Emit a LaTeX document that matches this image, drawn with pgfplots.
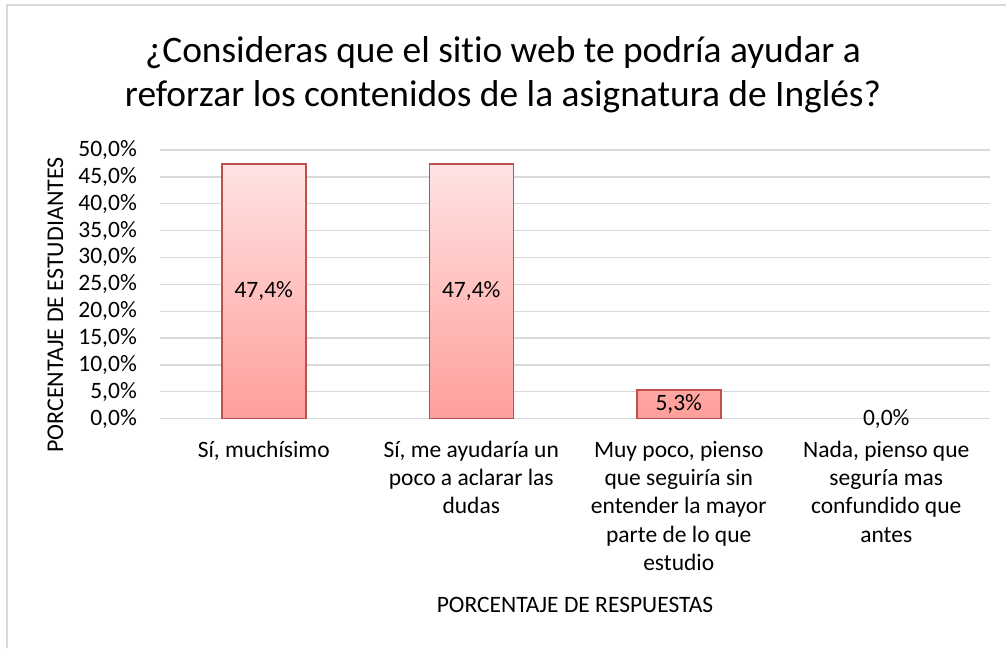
\documentclass[border=0pt]{standalone}
\usepackage{fontspec}
\setmainfont{Carlito}[Ligatures=NoCommon]
\usepackage{pgfplots}
\pgfplotsset{compat=1.18}
\definecolor{gridc}{HTML}{D9D9D9}
\definecolor{barb}{HTML}{C0504D}
\definecolor{bartop}{HTML}{FFE3E3}
\definecolor{barbot}{HTML}{FF9E9B}
\newcommand\fs{\fontsize{23.5}{28.3}\selectfont}
\newcommand\st{\rule{0pt}{20pt}}
\begin{document}
\begin{tikzpicture}[x=1pt,y=1pt]
\useasboundingbox (0,0) rectangle (1006,648);
\fill[white] (0,0) rectangle (1006,648);
\draw[gridc, line width=1.5pt] (7,0) -- (7,643) -- (1006,643);
\node[anchor=base, inner sep=0pt, font=\fontsize{37.4}{44}\selectfont] at (503,585) {¿Consideras que el sitio web te podría ayudar a};
\node[anchor=base, inner sep=0pt, font=\fontsize{37.4}{44}\selectfont] at (503,541) {reforzar los contenidos de la asignatura de Inglés?};
\node[anchor=base, rotate=90, inner sep=0pt, font=\fontsize{24}{28.3}\selectfont] at (63,343) {PORCENTAJE DE ESTUDIANTES};
\node[anchor=base, inner sep=0pt, font=\fs] at (575,36) {PORCENTAJE DE RESPUESTAS};
\begin{axis}[
  at={(160pt,229.3pt)}, anchor=south west,
  scale only axis, width=830pt, height=268.7pt,
  xmin=-0.5, xmax=3.5, ymin=0, ymax=50,
  ytick={0,5,...,50},
  yticklabels={{0,0\%},{5,0\%},{10,0\%},{15,0\%},{20,0\%},{25,0\%},{30,0\%},{35,0\%},{40,0\%},{45,0\%},{50,0\%}},
  xtick={0,1,2,3},
  xticklabels={{\st Sí, muchísimo},
               {\st Sí, me ayudaría un\\poco a aclarar las\\dudas},
               {\st Muy poco, pienso\\que seguiría sin\\entender la mayor\\parte de lo que\\estudio},
               {\st Nada, pienso que\\seguría mas\\confundido que\\antes}},
  axis line style={draw=none},
  major tick length=0pt,
  ymajorgrids,
  grid style={gridc, line width=1.3pt},
  yticklabel style={font=\fs, anchor=east, inner sep=0pt, xshift=-23pt},
  xticklabel style={font=\fs, anchor=north, align=center, inner sep=0pt, yshift=-18.3pt},
  clip=false
]
\addplot[ybar, bar width=84pt, draw=barb, line width=1.5pt, top color=bartop, bottom color=barbot]
  coordinates {(0,47.4) (1,47.4) (2,5.3)};
\addplot[draw=none, mark=none, nodes near coords, point meta=explicit symbolic,
  nodes near coords style={font=\fs, anchor=center, inner sep=0pt}]
  coordinates {(0,23.7)[{47,4\%}] (1,23.7)[{47,4\%}] (2,2.65)[{5,3\%}] (3,0)[{0,0\%}]};
\end{axis}
\end{tikzpicture}
\end{document}
